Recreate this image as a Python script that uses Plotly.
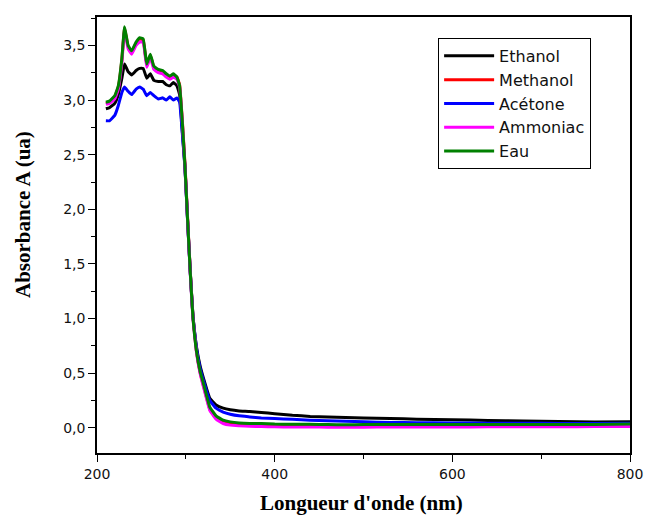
import plotly.graph_objects as go

wavelength = [210, 214, 220, 224, 228, 231, 235, 239, 244, 248, 252, 256, 260, 264, 269, 274, 278, 282, 286, 290,
              293, 296, 299, 302, 305, 308, 312, 316, 320, 327, 334, 342, 350, 360, 372, 385, 400, 420, 440, 460,
              480, 500, 530, 560, 600, 640, 680, 720, 760, 800]

ethanol = [2.92, 2.93, 2.97, 3.05, 3.20, 3.33, 3.26, 3.23, 3.27, 3.29, 3.29, 3.20, 3.24, 3.18, 3.17, 3.17, 3.14, 3.13, 3.16, 3.13,
           3.05, 2.72, 2.39, 1.90, 1.43, 1.03, 0.74, 0.57, 0.45, 0.27, 0.21, 0.18, 0.165, 0.155, 0.15, 0.14, 0.13, 0.115, 0.105, 0.10,
           0.095, 0.09, 0.085, 0.08, 0.075, 0.068, 0.063, 0.058, 0.053, 0.056]

methanol = [2.97, 2.98, 3.03, 3.12, 3.37, 3.66, 3.49, 3.44, 3.52, 3.56, 3.55, 3.32, 3.41, 3.30, 3.27, 3.26, 3.23, 3.21, 3.23, 3.21,
            3.14, 2.82, 2.42, 1.92, 1.43, 1.02, 0.70, 0.51, 0.38, 0.17, 0.09, 0.05, 0.035, 0.03, 0.025, 0.025, 0.02, 0.02, 0.018, 0.015,
            0.015, 0.015, 0.015, 0.015, 0.015, 0.015, 0.015, 0.015, 0.015, 0.018]

acetone = [2.81, 2.81, 2.86, 2.95, 3.07, 3.12, 3.08, 3.05, 3.10, 3.12, 3.10, 3.04, 3.07, 3.04, 3.01, 3.02, 3.00, 3.03, 3.00, 3.02,
           2.98, 2.70, 2.38, 1.89, 1.42, 1.02, 0.73, 0.55, 0.43, 0.25, 0.18, 0.145, 0.125, 0.11, 0.10, 0.09, 0.085, 0.078, 0.07, 0.065,
           0.06, 0.055, 0.05, 0.047, 0.045, 0.043, 0.042, 0.041, 0.04, 0.042]

ammoniac = [2.96, 2.97, 3.01, 3.10, 3.34, 3.64, 3.47, 3.42, 3.50, 3.53, 3.53, 3.30, 3.39, 3.28, 3.25, 3.24, 3.21, 3.19, 3.21, 3.19,
            3.12, 2.80, 2.40, 1.90, 1.41, 1.00, 0.69, 0.50, 0.37, 0.16, 0.08, 0.04, 0.025, 0.02, 0.015, 0.012, 0.01, 0.008, 0.008, 0.006,
            0.006, 0.006, 0.008, 0.008, 0.008, 0.01, 0.01, 0.01, 0.012, 0.012]

eau = [2.98, 2.99, 3.04, 3.13, 3.38, 3.67, 3.50, 3.45, 3.53, 3.57, 3.56, 3.33, 3.42, 3.31, 3.28, 3.27, 3.24, 3.22, 3.24, 3.21,
       3.13, 2.80, 2.40, 1.90, 1.42, 1.01, 0.70, 0.52, 0.40, 0.19, 0.11, 0.07, 0.055, 0.045, 0.04, 0.04, 0.035, 0.033, 0.032, 0.03,
       0.028, 0.03, 0.03, 0.03, 0.03, 0.03, 0.03, 0.03, 0.03, 0.035]

series = [("Ethanol", ethanol, "#000000"),
          ("Methanol", methanol, "#ff0000"),
          ("Acétone", acetone, "#0000ff"),
          ("Ammoniac", ammoniac, "#ff00ff"),
          ("Eau", eau, "#008000")]

x_ticks = [200, 400, 600, 800]
y_ticks = [0.0, 0.5, 1.0, 1.5, 2.0, 2.5, 3.0, 3.5]

fig = go.Figure()
for i, (name, vals, col) in enumerate(series):
    fig.add_trace(go.Scatter(x=wavelength, y=vals, mode="lines", name=name,
                             line=dict(color=col, width=3, shape="spline", smoothing=0.3)))

axis_common = dict(showline=True, linecolor="black", linewidth=1.5, mirror=True,
                   ticks="outside", ticklen=7, tickwidth=1.3, tickcolor="black",
                   showgrid=False, zeroline=False, automargin=False,
                   tickfont=dict(family="DejaVu Sans", size=14, color="#111"))

fig.update_xaxes(range=[200, 800], tickvals=x_ticks,
                 minor=dict(ticks="outside", ticklen=4, tickwidth=1.3, tickcolor="black", dtick=100, tick0=200, showgrid=False),
                 **axis_common)
fig.update_yaxes(range=[-0.23, 3.76], tickvals=y_ticks, tickformat=".1f",
                 minor=dict(ticks="outside", ticklen=4, tickwidth=1.3, tickcolor="black", dtick=0.25, tick0=0, showgrid=False),
                 **axis_common)

title_font = dict(family="Liberation Serif", size=21, color="black")
fig.add_annotation(text="<b>Longueur d'onde (nm)</b>", xref="paper", yref="paper",
                   x=0.497, y=-0.115, xanchor="center", yanchor="middle", showarrow=False, font=title_font)
fig.add_annotation(text="<b>Absorbance A (ua)</b>", xref="paper", yref="paper", textangle=-90,
                   x=-0.139, y=0.548, xanchor="center", yanchor="middle", showarrow=False, font=title_font)

fig.update_layout(
    width=645, height=515,
    margin=dict(l=97, r=15, t=17, b=62, autoexpand=False),
    paper_bgcolor="white", plot_bgcolor="white",
    separators=", ",
    showlegend=True,
    legend=dict(x=0.64, y=0.952, xanchor="left", yanchor="top",
                bordercolor="black", borderwidth=1, bgcolor="white",
                font=dict(family="DejaVu Sans", size=16, color="#111"),
                itemwidth=50),
)

fig.write_html("out.html")
